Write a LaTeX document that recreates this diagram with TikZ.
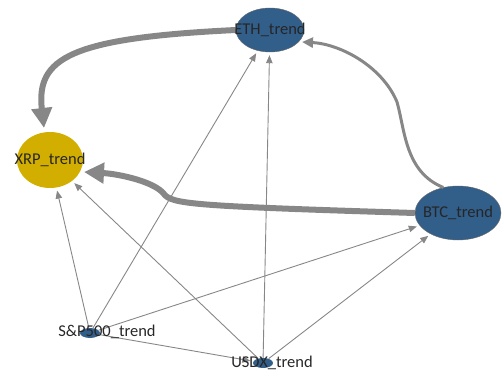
\documentclass[tikz,border=0pt]{standalone}
\usepackage{fontspec}
\setmainfont{Carlito}
\usetikzlibrary{arrows.meta,shapes.geometric}
\definecolor{trendblue}{RGB}{50,94,138}
\definecolor{trendgold}{RGB}{210,174,0}
\definecolor{edgegray}{RGB}{135,135,135}

\begin{document}
\begin{tikzpicture}[x=1pt, y=-1pt,
    bignode/.style={ellipse, draw=black!60, fill=trendblue, inner sep=0pt},
    goldnode/.style={ellipse, fill=trendgold, inner sep=0pt},
    dotnode/.style={ellipse, fill=trendblue, inner sep=0pt,
                    minimum width=20pt, minimum height=10pt},
    tlabel/.style={font=\fontsize{16.5}{18}\selectfont, text=black!85},
    thinedge/.style={draw=edgegray, line width=0.9pt, shorten >=3pt,
                     -{Triangle[length=8pt, width=6.5pt]}},
    midedge/.style={draw=edgegray, line width=3pt,
                    -{Triangle[length=11pt, width=10pt]}},
    fatedge/.style={draw=edgegray, line width=6pt,
                    -{Triangle[length=20pt, width=20pt]}},
]
\useasboundingbox (0,0) rectangle (503,374);

\node[bignode, minimum width=68pt, minimum height=44pt] (eth) at (270,30) {};
\node[goldnode, minimum width=66pt, minimum height=56pt] (xrp) at (50,160) {};
\node[bignode, minimum width=86pt, minimum height=54pt] (btc) at (458,213) {};
\node[dotnode] (sp) at (90,333) {};
\node[dotnode] (usdx) at (263,363) {};

% thin edges
\draw[thinedge] (sp) -- (xrp);
\draw[thinedge] (sp) -- (eth);
\draw[thinedge] (sp) -- (btc);
\draw[thinedge] (sp) -- (usdx);
\draw[thinedge] (usdx) -- (xrp);
\draw[thinedge] (usdx) -- (eth);
\draw[thinedge] (usdx) -- (btc);

% heavy edges
\draw[fatedge] (eth.west) .. controls (70,38) and (36,58) .. (44,128);
\draw[fatedge] (btc.west) .. controls (190,206) and (172,204) .. (164,194)
    .. controls (155,182) and (120,174) .. (84,172);
\draw[midedge] (btc.120) .. controls (405,172) and (405,130) .. (397,102)
    .. controls (382,66) and (340,44) .. (302,42);

\node[tlabel] (ethlbl) at (eth) {ETH\_trend};
\node[tlabel] (xrplbl) at (xrp) {XRP\_trend};
\node[tlabel] (btclbl) at (btc) {BTC\_trend};
\node[tlabel] (splbl) at (107,332) {S\&P500\_trend};
\node[tlabel] (usdxlbl) at (272,363) {USDX\_trend};
\end{tikzpicture}
\end{document}
